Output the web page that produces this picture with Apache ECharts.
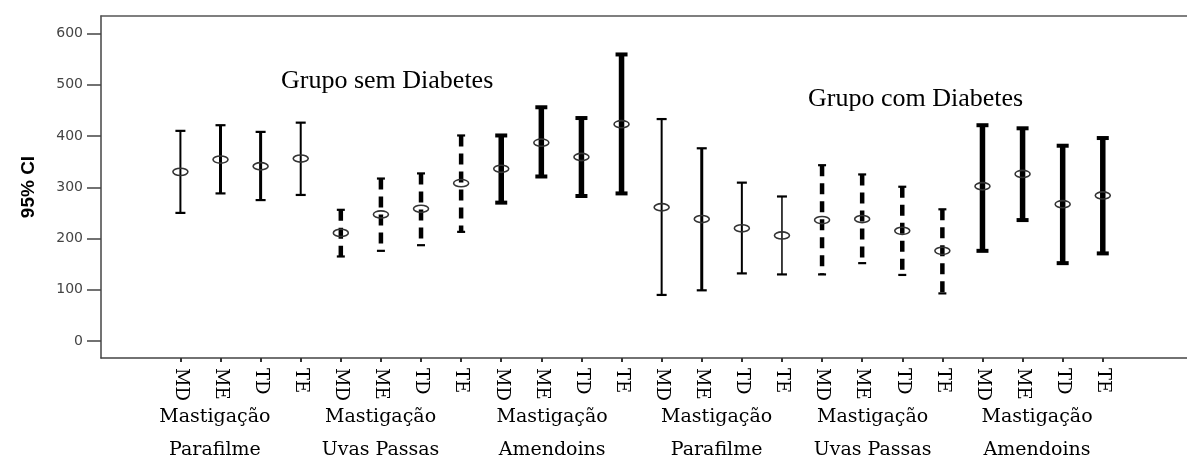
<!DOCTYPE html>
<html><head><meta charset="utf-8">
<script src="https://cdn.jsdelivr.net/npm/echarts@6/dist/echarts.min.js"></script>
<style>html,body{margin:0;padding:0;background:#fff}#c{width:1187px;height:459px}</style>
</head><body><div id="c"></div>
<script>
// ---- data ----
const conditions = ['MD', 'ME', 'TD', 'TE'];
const groupLabels = ['Mastigação\nParafilme', 'Mastigação\nUvas Passas', 'Mastigação\nAmendoins',
                     'Mastigação\nParafilme', 'Mastigação\nUvas Passas', 'Mastigação\nAmendoins'];
const categories = groupLabels.flatMap(() => conditions);
const meanValues  = [330, 354, 341, 356, 211, 247, 258, 308, 336, 387, 359, 423,
                     261, 238, 220, 206, 236, 238, 215, 176, 302, 326, 267, 284];
const lowerValues = [250, 288, 275, 285, 165, 176, 187, 213, 270, 321, 283, 288,
                      90,  99, 132, 130, 130, 152, 129,  93, 176, 236, 152, 171];
const upperValues = [410, 421, 408, 426, 256, 317, 327, 401, 401, 456, 435, 559,
                     433, 376, 309, 282, 343, 325, 301, 257, 421, 415, 381, 396];
const yTicks = [0, 100, 200, 300, 400, 500, 600];
const annotations = ['Grupo sem Diabetes', 'Grupo com Diabetes'];
const yAxisName = '95% CI';

// ---- layout / style ----
const barWidths = [2, 3, 3, 2, 4.5, 4.5, 4.5, 4.5, 5.5, 5.5, 5.5, 5.5, 2, 3, 2, 1.5, 4.5, 4.5, 4.5, 4.5, 5.5, 5.5, 5.5, 5.5];
const groupLabelPos = [0.86, 4.99, 9.27, 13.37, 17.26, 21.36];
const xMin = -1.98, xMax = 25.10;

const seriesData = categories.map((c, i) => [i, lowerValues[i], upperValues[i], meanValues[i]]);

function renderItem(params, api) {
  const i = api.value(0);
  const lo = api.coord([i, api.value(1)]);
  const hi = api.coord([i, api.value(2)]);
  const m = api.coord([i, api.value(3)]);
  const idx = params.dataIndex;
  const w = barWidths[idx];
  const dashed = Math.floor(idx / 4) % 3 === 1;
  const capHalf = w >= 5 ? 6 : (dashed ? 4 : 5);
  const capW = w >= 5 ? 4 : 2.2;
  return {
    type: 'group',
    children: [
      { type: 'line', shape: { x1: hi[0], y1: hi[1], x2: lo[0], y2: lo[1] },
        style: { stroke: '#000', lineWidth: w, lineDash: dashed ? [11, 7] : null } },
      { type: 'line', shape: { x1: hi[0] - capHalf, y1: hi[1], x2: hi[0] + capHalf, y2: hi[1] },
        style: { stroke: '#000', lineWidth: capW } },
      { type: 'line', shape: { x1: lo[0] - capHalf, y1: lo[1], x2: lo[0] + capHalf, y2: lo[1] },
        style: { stroke: '#000', lineWidth: capW } },
      { type: 'ellipse', shape: { cx: m[0], cy: m[1], rx: 7.5, ry: 3.6 },
        style: { fill: 'none', stroke: '#333', lineWidth: 1.6 } }
    ]
  };
}

const chart = echarts.init(document.getElementById('c'), null, { renderer: 'canvas' });
chart.setOption({
  backgroundColor: '#fff',
  animation: false,
  grid: { left: 101, top: 16, right: 0, bottom: 101, show: false, containLabel: false, outerBoundsMode: 'none' },
  xAxis: [
    {
      type: 'value', min: xMin, max: xMax, position: 'bottom',
      splitLine: { show: false },
      axisLine: { show: true, onZero: false, lineStyle: { color: '#444', width: 1.5 } },
      axisTick: { show: true, length: 4, customValues: categories.map((c, i) => i), lineStyle: { color: '#333', width: 2 } },
      axisLabel: {
        customValues: categories.map((c, i) => i),
        formatter: v => categories[Math.round(v)] || '',
        rotate: -90, margin: 10,
        fontFamily: '"DejaVu Serif", serif', fontSize: 18, color: '#000'
      }
    },
    {
      type: 'value', min: xMin, max: xMax, position: 'bottom',
      splitLine: { show: false },
      axisLine: { show: false, onZero: false }, axisTick: { show: false },
      axisLabel: {
        customValues: groupLabelPos,
        formatter: v => groupLabels[groupLabelPos.indexOf(v)] || '',
        margin: 43, lineHeight: 33,
        fontFamily: '"DejaVu Serif", serif', fontSize: 19, color: '#000'
      }
    },
    {
      type: 'value', min: xMin, max: xMax, position: 'top',
      splitLine: { show: false },
      axisLine: { show: true, onZero: false, lineStyle: { color: '#555', width: 1.5 } },
      axisTick: { show: false }, axisLabel: { show: false }
    }
  ],
  yAxis: {
    type: 'value', min: -33, max: 634,
    name: yAxisName, nameLocation: 'middle', nameGap: 63,
    nameTextStyle: { fontFamily: '"Liberation Sans Narrow", "Liberation Sans", Arial, sans-serif', fontWeight: 'bold', fontSize: 19, color: '#000' },
    splitLine: { show: false },
    axisLine: { show: true, onZero: false, lineStyle: { color: '#444', width: 1.5 } },
    axisTick: { show: true, length: 14, customValues: yTicks, lineStyle: { color: '#444', width: 1.5 } },
    axisLabel: { customValues: yTicks, margin: 18, fontFamily: '"DejaVu Sans", sans-serif', fontSize: 14, color: '#444' }
  },
  graphic: [
    { type: 'text', left: 281, top: 68, style: { text: annotations[0], font: '26px "Liberation Serif", "Times New Roman", serif', fill: '#000' } },
    { type: 'text', left: 808, top: 86, style: { text: annotations[1], font: '26px "Liberation Serif", "Times New Roman", serif', fill: '#000' } }
  ],
  series: [{
    type: 'custom', xAxisIndex: 0, yAxisIndex: 0,
    renderItem: renderItem, clip: false,
    encode: { x: 0, y: [1, 2, 3] },
    data: seriesData
  }]
});
</script></body></html>
